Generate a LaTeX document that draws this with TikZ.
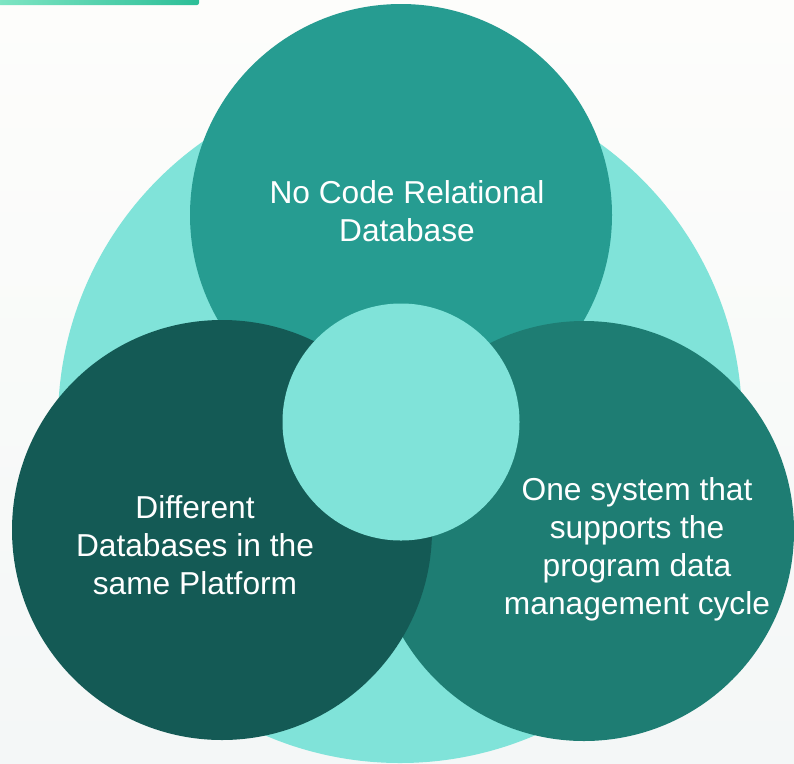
\documentclass[tikz,border=0pt]{standalone}
\usepackage{fontspec}
\setmainfont{Liberation Sans}
\definecolor{bgtop}{HTML}{FDFDFB}
\definecolor{bgbot}{HTML}{F4F7F7}
\definecolor{barleft}{HTML}{80E6C4}
\definecolor{barright}{HTML}{2CBE97}
\definecolor{mint}{HTML}{80E3D9}
\definecolor{midteal}{HTML}{269C91}
\definecolor{darkteal}{HTML}{145A55}
\definecolor{deepteal}{HTML}{1E7D73}
\begin{document}
\begin{tikzpicture}[x=1pt,y=-1pt]
\tikzstyle{disc} = [circle, inner sep=0pt, outer sep=0pt, draw=none]
\tikzstyle{disctext} = [text=white, align=center, inner sep=0pt, font=\fontsize{31.7}{38}\selectfont]
\useasboundingbox (0,0) rectangle (794,763);
\clip (0,0) rectangle (794,763);
\shade[top color=bgtop, bottom color=bgbot] (0,0) rectangle (794,763);
\shade[left color=barleft, right color=barright, rounded corners=2pt] (-6,-6) rectangle (199,5);
\node (outer)[disc, fill=mint, minimum size=684pt] at (400,421) {};
\node (nocode)[disc, fill=midteal, minimum size=422pt] at (401,215) {};
\node (onesys)[disc, fill=deepteal, minimum size=420pt] at (584,531) {};
\node (multidb)[disc, fill=darkteal, minimum size=420pt] at (222,530) {};
\node (hub)[disc, fill=mint, minimum size=237pt] at (401,422) {};
\node (nocodeTxt)[disctext] at (407,211) {No Code Relational\\Database};
\node (multidbTxt)[disctext] at (195,545) {Different\\Databases in the\\same Platform};
\node (onesysTxt)[disctext] at (637,549) {One system that\\supports the\\program data\\management cycle};
\end{tikzpicture}
\end{document}
